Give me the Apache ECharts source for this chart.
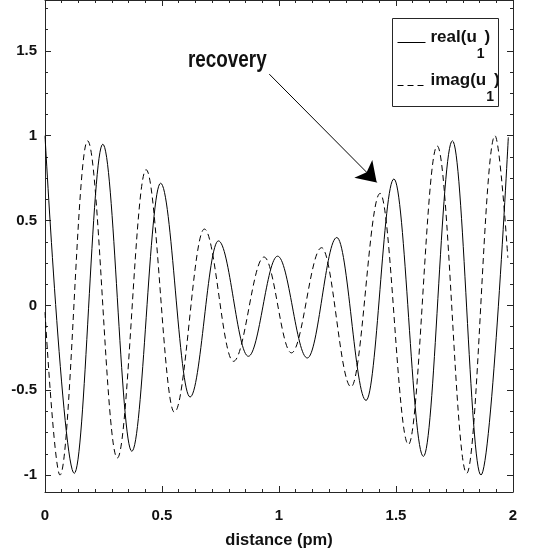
<!DOCTYPE html>
<html>
<head>
<meta charset="utf-8">
<script src="https://cdn.jsdelivr.net/npm/echarts@6/dist/echarts.min.js"></script>
<style>html,body{margin:0;padding:0;background:#fff;}#c{width:535px;height:557px;}</style>
</head>
<body>
<div id="c"></div>
<script>
// ---- data (start/end points and every peak and trough) ----
const realX = [0, 0.125, 0.247, 0.371, 0.494, 0.620, 0.741, 0.869, 0.994, 1.121, 1.247, 1.372, 1.491, 1.617, 1.741, 1.863, 1.980];
const realY = [1.0, -0.99, 0.95, -0.86, 0.72, -0.54, 0.38, -0.30, 0.29, -0.31, 0.40, -0.56, 0.745, -0.89, 0.97, -1.0, 0.99];
const imagX = [0, 0.064, 0.182, 0.309, 0.432, 0.553, 0.681, 0.805, 0.936, 1.053, 1.182, 1.308, 1.432, 1.553, 1.676, 1.802, 1.923, 1.978];
const imagY = [-0.04, -1.0, 0.97, -0.90, 0.80, -0.63, 0.45, -0.33, 0.285, -0.28, 0.34, -0.48, 0.66, -0.82, 0.94, -0.99, 1.0, 0.28];
const yMajorTicks = [-1, -0.5, 0, 0.5, 1, 1.5];
const yMinorTicks = [-0.875, -0.75, -0.625, -0.375, -0.25, -0.125, 0.125, 0.25, 0.375, 0.625, 0.75, 0.875, 1.125, 1.25, 1.375, 1.625, 1.75];
const seriesNames = ['real(u1)', 'imag(u1)'];
const legendTexts = ['real(u', 'imag(u'];
const arrowStart = [0.9585, 1.363];
const arrowTip = [1.4175, 0.725];
const annotation = 'recovery';
const xTitle = 'distance (pm)';

const FONT = "'Liberation Sans', Arial, sans-serif";
const INK = '#262626';

function zip(xs, ys) { return xs.map((x, i) => [x, ys[i]]); }

const chart = echarts.init(document.getElementById('c'), null, { renderer: 'canvas' });

const yBase = { type: 'value', min: -1.1, max: 1.8, splitLine: { show: false } };

const option = {
  animation: false,
  backgroundColor: '#fff',
  grid: { left: 45, right: 22, top: -1, bottom: 65 },
  xAxis: [
    {
      type: 'value', position: 'bottom', min: 0, max: 2, interval: 0.5,
      axisLine: { show: true, onZero: false, lineStyle: { color: INK, width: 1 } },
      axisTick: { show: true, inside: true, length: 6, lineStyle: { color: INK } },
      minorTick: { show: true, splitNumber: 7, length: 3, lineStyle: { color: INK } },
      splitLine: { show: false },
      axisLabel: { show: true, margin: 16, color: '#111', fontFamily: FONT, fontWeight: 'bold', fontSize: 15 },
      name: xTitle, nameLocation: 'middle', nameGap: 40,
      nameTextStyle: { color: '#111', fontFamily: FONT, fontWeight: 'bold', fontSize: 16.5 }
    },
    {
      type: 'value', position: 'top', min: 0, max: 2, interval: 0.5,
      axisLine: { show: true, onZero: false, lineStyle: { color: INK, width: 1 } },
      axisTick: { show: true, inside: true, length: 6, lineStyle: { color: INK } },
      minorTick: { show: true, splitNumber: 7, length: 3, lineStyle: { color: INK } },
      splitLine: { show: false },
      axisLabel: { show: false }
    }
  ],
  yAxis: [
    Object.assign({}, yBase, {
      position: 'left',
      axisLine: { show: true, onZero: false, lineStyle: { color: INK, width: 1 } },
      axisTick: { show: true, inside: true, length: 6, customValues: yMajorTicks, lineStyle: { color: INK } },
      axisLabel: { show: true, customValues: yMajorTicks, margin: 8, padding: [5, 0, 0, 0], color: '#111', fontFamily: FONT, fontWeight: 'bold', fontSize: 15 }
    }),
    Object.assign({}, yBase, {
      position: 'left',
      axisLine: { show: false, onZero: false },
      axisTick: { show: true, inside: true, length: 3, customValues: yMinorTicks, lineStyle: { color: INK } },
      axisLabel: { show: false }
    }),
    Object.assign({}, yBase, {
      position: 'right',
      axisLine: { show: true, onZero: false, lineStyle: { color: INK, width: 1 } },
      axisTick: { show: true, inside: true, length: 6, customValues: yMajorTicks, lineStyle: { color: INK } },
      axisLabel: { show: false }
    }),
    Object.assign({}, yBase, {
      position: 'right',
      axisLine: { show: false, onZero: false },
      axisTick: { show: true, inside: true, length: 3, customValues: yMinorTicks, lineStyle: { color: INK } },
      axisLabel: { show: false }
    })
  ],
  legend: {
    orient: 'vertical', left: 397, top: 29, padding: 0, itemGap: 11,
    itemWidth: 28, itemHeight: 14,
    data: seriesNames,
    lineStyle: { width: 1 },
    itemStyle: { color: 'rgba(0,0,0,0)', borderWidth: 0 },
    formatter: function (name) {
      const i = seriesNames.indexOf(name);
      return '{a|' + legendTexts[i] + '}{s|1}{a|)}';
    },
    textStyle: {
      color: '#111', fontFamily: FONT, fontWeight: 'bold', fontSize: 17,
      rich: {
        a: { fontFamily: FONT, fontWeight: 'bold', fontSize: 17, color: '#111', verticalAlign: 'top', padding: [5, 0, 0, 0] },
        s: { fontFamily: FONT, fontWeight: 'bold', fontSize: 14, color: '#111', verticalAlign: 'top', padding: [23, 0, 0, 0] }
      }
    }
  },
  graphic: [
    {
      type: 'rect', z: 100, silent: true,
      shape: { x: 392.5, y: 18.5, width: 106, height: 88 },
      style: { fill: 'transparent', stroke: INK, lineWidth: 1 }
    },
    {
      type: 'text', z: 100, silent: true, x: 188, y: 60.5, scaleX: 0.82,
      style: { text: annotation, fill: '#111', font: 'bold 23px ' + FONT, align: 'left', verticalAlign: 'middle' }
    }
  ],
  series: [
    {
      name: seriesNames[0], type: 'line', xAxisIndex: 0, yAxisIndex: 0,
      data: zip(realX, realY), smooth: 0.364, smoothMonotone: 'x', symbol: 'none', showSymbol: false,
      lineStyle: { color: '#000', width: 1, type: 'solid' },
      itemStyle: { color: 'rgba(0,0,0,0)' },
      markLine: {
        silent: true, animation: false,
        symbol: ['none', 'arrow'], symbolSize: 19,
        label: { show: false },
        itemStyle: { color: '#000' },
        lineStyle: { color: '#000', width: 1, type: 'solid' },
        data: [[{ coord: arrowStart }, { coord: arrowTip }]]
      }
    },
    {
      name: seriesNames[1], type: 'line', xAxisIndex: 0, yAxisIndex: 0,
      data: zip(imagX, imagY), smooth: 0.364, smoothMonotone: 'x', symbol: 'none', showSymbol: false,
      lineStyle: { color: '#000', width: 1, type: [6, 4] },
      itemStyle: { color: 'rgba(0,0,0,0)' }
    }
  ]
};

chart.setOption(option);
</script>
</body>
</html>
